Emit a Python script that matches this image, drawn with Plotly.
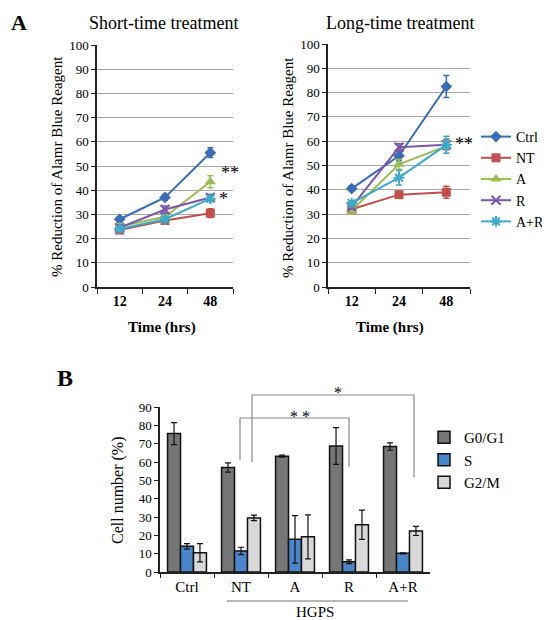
import plotly.graph_objects as go

# ---------------- data ----------------
times = ["12", "24", "48"]
series = ["Ctrl", "NT", "A", "R", "A+R"]
short_vals = {
    "Ctrl": [28, 37, 55.5],
    "NT": [23.5, 27.5, 30.5],
    "A": [25, 29, 43.5],
    "R": [24.5, 32, 37],
    "A+R": [24, 28, 36.5],
}
short_err = {
    "Ctrl": [1, 1.2, 2],
    "NT": [1, 1, 1.8],
    "A": [1, 1, 2.5],
    "R": [1, 1.5, 1.2],
    "A+R": [1, 1, 1.2],
}
long_vals = {
    "Ctrl": [40.5, 54, 82.5],
    "NT": [32, 38, 39],
    "A": [31.5, 50.5, 58],
    "R": [33, 57.5, 58.5],
    "A+R": [34.5, 45, 58.5],
}
long_err = {
    "Ctrl": [1, 2, 4.5],
    "NT": [1.5, 1.2, 2.5],
    "A": [1, 2, 3],
    "R": [1, 1.5, 2],
    "A+R": [1, 3, 3.5],
}

groups = ["Ctrl", "NT", "A", "R", "A+R"]
phases = ["G0/G1", "S", "G2/M"]
phase_vals = {
    "G0/G1": [75.5, 57, 63.2, 68.7, 68.4],
    "S": [14, 11.5, 17.8, 5.6, 10.2],
    "G2/M": [10.5, 29.5, 19.2, 25.8, 22.4],
}
phase_err = {
    "G0/G1": [6, 2.5, 0.5, 10, 2],
    "S": [1.5, 2, 13, 1, 0.3],
    "G2/M": [5, 1.5, 12, 8, 2.5],
}

# ---------------- styles ----------------
W, H = 550, 620
OFF = 8  # page body margin in the browser
SERIF = "Liberation Serif, Times New Roman, Times, serif"
line_colors = {"Ctrl": "#3A6DB5", "NT": "#C0504D", "A": "#9BBB59", "R": "#7A58A6", "A+R": "#3FA9C8"}
symbols = {"Ctrl": "diamond", "NT": "square", "A": "triangle-up", "R": "x-thin", "A+R": "asterisk"}
msizes = {"Ctrl": 9, "NT": 9, "A": 10, "R": 9, "A+R": 9}
bar_colors = {"G0/G1": "#767676", "S": "#4A86C8", "G2/M": "#D9D9D9"}


def px(x):
    return (x - OFF) / W


def py(y):
    return 1 - (y - OFF) / H


fig = go.Figure()

for s in series:
    c = line_colors[s]
    open_sym = symbols[s] in ("x-thin", "asterisk")
    mk = dict(symbol=symbols[s], size=msizes[s], color=c,
              line=dict(color=c, width=2 if open_sym else 0))
    fig.add_trace(go.Scatter(
        x=times, y=short_vals[s], name=s, mode="lines+markers",
        line=dict(color=c, width=2), marker=mk,
        error_y=dict(type="data", array=short_err[s], color=c, thickness=1.5, width=3),
        xaxis="x", yaxis="y", showlegend=False))
    fig.add_trace(go.Scatter(
        x=times, y=long_vals[s], name=s, mode="lines+markers",
        line=dict(color=c, width=2), marker=mk,
        error_y=dict(type="data", array=long_err[s], color=c, thickness=1.5, width=3),
        xaxis="x2", yaxis="y2", showlegend=True, legend="legend"))

for p in phases:
    fig.add_trace(go.Bar(
        x=groups, y=phase_vals[p], name=p,
        marker=dict(color=bar_colors[p], line=dict(color="#111111", width=1.5)),
        error_y=dict(type="data", array=phase_err[p], color="#111111", thickness=1.2, width=3),
        xaxis="x3", yaxis="y3", legend="legend2"))

# ---------------- axes ----------------
xline = dict(type="category", range=[-0.5, 2.5], tickson="boundaries", ticks="outside",
             ticklen=5, tickcolor="#222", showline=True, linecolor="#222", linewidth=1.5,
             showgrid=False, automargin=False,
             tickfont=dict(family=SERIF, size=14, color="black", weight="bold"))
yline = dict(range=[0, 100], dtick=10, ticks="outside", ticklen=4, tickcolor="#222",
             showline=True, linecolor="#222", linewidth=1.5, showgrid=True,
             gridcolor="#A8A8A8", gridwidth=1, zeroline=False, automargin=False,
             tickfont=dict(family=SERIF, size=13, color="black"))

fig.update_layout(
    width=W, height=H, autosize=False,
    margin=dict(l=0, r=0, t=0, b=0, pad=0, autoexpand=False),
    paper_bgcolor="white", plot_bgcolor="white",
    font=dict(family=SERIF, color="black"),
    barmode="group", bargap=0.28, bargroupgap=0,
    xaxis=dict(xline, domain=[px(97), px(233)], anchor="y"),
    yaxis=dict(yline, domain=[py(287), py(45)], anchor="x"),
    xaxis2=dict(xline, domain=[px(328), px(470)], anchor="y2"),
    yaxis2=dict(yline, domain=[py(287), py(44)], anchor="x2"),
    xaxis3=dict(type="category", range=[-0.5, 4.5], tickson="boundaries", ticks="outside",
                ticklen=4, tickcolor="#222", showline=True, linecolor="#222", linewidth=1.5,
                showgrid=False, domain=[px(160), px(430)], anchor="y3", automargin=False,
                tickfont=dict(family=SERIF, size=15, color="black")),
    yaxis3=dict(range=[0, 90], dtick=10, ticks="outside", ticklen=4, tickcolor="#222",
                showline=True, linecolor="#222", linewidth=1.5, showgrid=False, zeroline=False,
                domain=[py(572), py(407)], anchor="x3", automargin=False,
                tickfont=dict(family=SERIF, size=13, color="black")),
    legend=dict(x=px(476), y=py(121), xanchor="left", yanchor="top",
                font=dict(family=SERIF, size=14, color="black"),
                bgcolor="rgba(0,0,0,0)", itemwidth=30, tracegroupgap=0),
    legend2=dict(x=px(424), y=py(421), xanchor="left", yanchor="top",
                 font=dict(family=SERIF, size=15, color="black"),
                 bgcolor="rgba(0,0,0,0)", itemwidth=30, tracegroupgap=6),
    showlegend=True,
)

# ---------------- annotations ----------------
ann = []


def text(x, y, t, size, bold=False, angle=0, color="black", yanchor="middle"):
    ann.append(dict(x=px(x), y=py(y), xref="paper", yref="paper", text=t, showarrow=False,
                    textangle=angle, xanchor="center", yanchor=yanchor,
                    font=dict(family=SERIF, size=size, color=color,
                              weight="bold" if bold else "normal")))


text(19, 8, "A", 22, bold=True, yanchor="top")
text(65, 378, "B", 24, bold=True)
text(163, 23, "Short-time treatment", 18)
text(400, 23, "Long-time treatment", 18)
text(57, 167, "% Reduction of Alamr Blue Reagent", 15, angle=-90)
text(288, 167, "% Reduction of Alamr Blue Reagent", 15, angle=-90)
text(162, 327, "Time (hrs)", 15, bold=True)
text(390, 327, "Time (hrs)", 15, bold=True)
text(230, 173, "**", 18)
text(223, 199, "*", 18)
text(464, 144, "**", 18)
text(118, 490, "Cell number (%)", 16, angle=-90)
text(300, 416, "* *", 16)
text(338, 392, "*", 16)
text(315, 612, "HGPS", 15)
fig.update_layout(annotations=ann)

# ---------------- bracket shapes ----------------
gray = "#8A8A8A"
shapes = [
    dict(type="path", xref="paper", yref="paper", line=dict(color=gray, width=1.2),
         path=f"M {px(240)} {py(460)} L {px(240)} {py(418)} L {px(349)} {py(418)} L {px(349)} {py(467)}"),
    dict(type="path", xref="paper", yref="paper", line=dict(color=gray, width=1.2),
         path=f"M {px(252)} {py(462)} L {px(252)} {py(395)} L {px(414)} {py(395)} L {px(414)} {py(477)}"),
    dict(type="line", xref="paper", yref="paper", line=dict(color="#A0A0A0", width=1.5),
         x0=px(227), x1=px(408), y0=py(601), y1=py(601)),
]
fig.update_layout(shapes=shapes)

fig.write_html("out.html")
